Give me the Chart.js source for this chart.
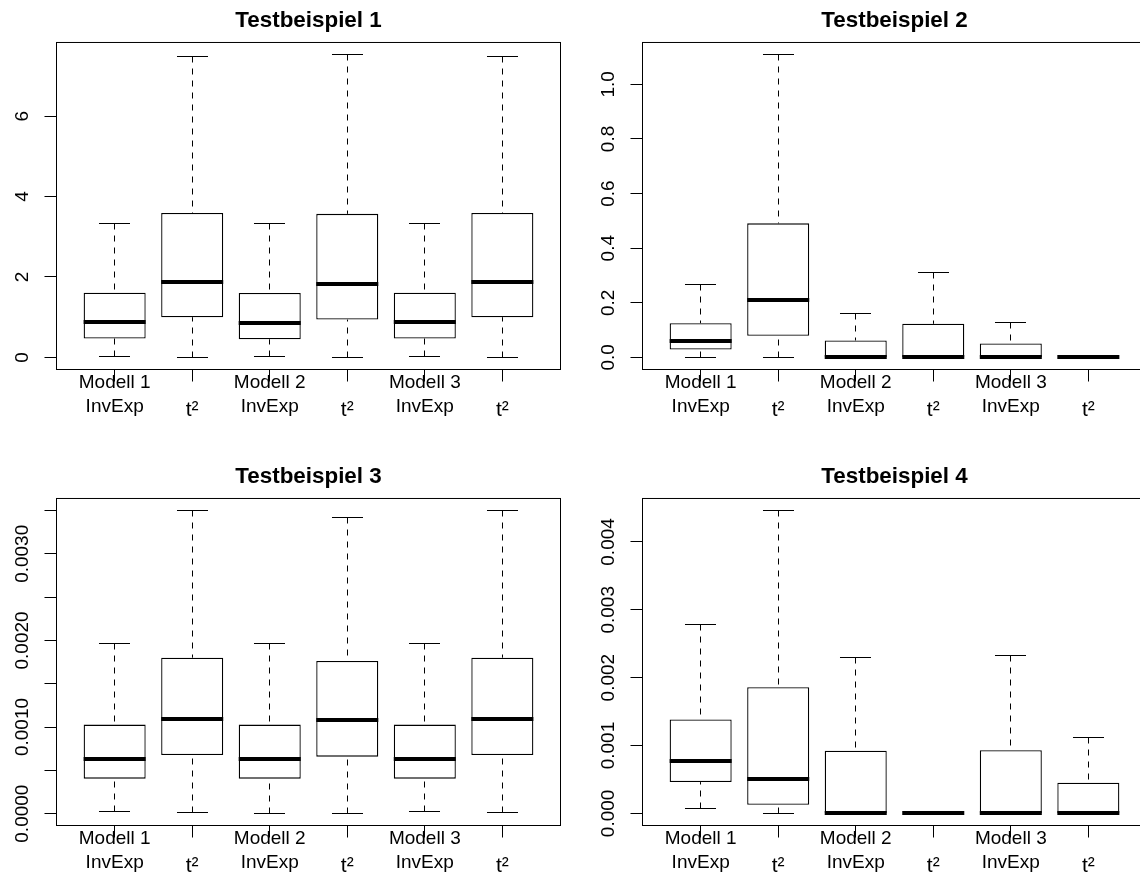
<!DOCTYPE html>
<html>
<head>
<meta charset="utf-8">
<script src="https://cdn.jsdelivr.net/npm/chart.js@4.4.1/dist/chart.umd.min.js"></script>
<style>
  html, body { margin: 0; padding: 0; background: #fff; width: 1140px; height: 873px; overflow: hidden; position: relative; }
  canvas { position: absolute; }
</style>
</head>
<body>
<canvas id="tb1" width="570" height="436" style="left:0px;top:0px"></canvas>
<canvas id="tb2" width="570" height="436" style="left:586px;top:0px"></canvas>
<canvas id="tb3" width="570" height="436" style="left:0px;top:456px"></canvas>
<canvas id="tb4" width="570" height="436" style="left:586px;top:456px"></canvas>
<script>
// Box positions along the x axis and their two-line labels
const positions = [1, 2, 3, 4, 5, 6];
const xTickLabels = [
  ["Modell 1", "InvExp"], ["", "t²"],
  ["Modell 2", "InvExp"], ["", "t²"],
  ["Modell 3", "InvExp"], ["", "t²"]
];
const titles = ["Testbeispiel 1", "Testbeispiel 2", "Testbeispiel 3", "Testbeispiel 4"];

// Testbeispiel 1: five-number summaries per box
const t1Low  = [0.02, 0.00, 0.01, 0.00, 0.02, 0.00];
const t1Q1   = [0.47, 1.00, 0.45, 0.94, 0.47, 1.00];
const t1Med  = [0.87, 1.88, 0.85, 1.83, 0.87, 1.88];
const t1Q3   = [1.61, 3.59, 1.60, 3.57, 1.61, 3.59];
const t1High = [3.34, 7.48, 3.32, 7.53, 3.34, 7.48];
const t1Ticks = [0, 2, 4, 6];
const t1TickLabels = ["0", "2", "4", "6"];

// Testbeispiel 2
const t2Low  = [0.000, 0.000, 0.000, 0.000, 0.000, 0.000];
const t2Q1   = [0.029, 0.079, 0.000, 0.000, 0.000, 0.000];
const t2Med  = [0.060, 0.210, 0.000, 0.000, 0.000, 0.000];
const t2Q3   = [0.125, 0.491, 0.062, 0.123, 0.051, 0.000];
const t2High = [0.268, 1.109, 0.160, 0.310, 0.128, 0.000];
const t2Ticks = [0, 0.2, 0.4, 0.6, 0.8, 1.0];
const t2TickLabels = ["0.0", "0.2", "0.4", "0.6", "0.8", "1.0"];

// Testbeispiel 3
const t3Low  = [0.000030, 0.000018, 0.000003, 0.000003, 0.000030, 0.000018];
const t3Q1   = [0.000404, 0.000677, 0.000404, 0.000658, 0.000404, 0.000677];
const t3Med  = [0.000635, 0.001092, 0.000631, 0.001085, 0.000635, 0.001092];
const t3Q3   = [0.001028, 0.001801, 0.001028, 0.001762, 0.001028, 0.001801];
const t3High = [0.001963, 0.003499, 0.001970, 0.003425, 0.001963, 0.003499];
const t3Ticks = [0, 0.0005, 0.0010, 0.0015, 0.0020, 0.0025, 0.0030, 0.0035];
const t3TickLabels = ["0.0000", "", "0.0010", "", "0.0020", "", "0.0030", ""];

// Testbeispiel 4
const t4Low  = [0.000078, 0.000000, 0.000000, 0.000000, 0.000000, 0.000000];
const t4Q1   = [0.000461, 0.000127, 0.000000, 0.000000, 0.000000, 0.000000];
const t4Med  = [0.000770, 0.000505, 0.000000, 0.000000, 0.000000, 0.000000];
const t4Q3   = [0.001384, 0.001860, 0.000922, 0.000000, 0.000932, 0.000451];
const t4High = [0.002778, 0.004462, 0.002302, 0.000000, 0.002331, 0.001119];
const t4Ticks = [0, 0.001, 0.002, 0.003, 0.004];
const t4TickLabels = ["0.000", "0.001", "0.002", "0.003", "0.004"];

const FONT = "'Liberation Sans', Arial, Helvetica, sans-serif";
Chart.defaults.font.family = FONT;
Chart.defaults.color = '#000';

const measureCtx = document.createElement('canvas').getContext('2d');
function widestLabel(labels, size) {
  measureCtx.font = size + 'px ' + FONT;
  return Math.max(...labels.map(l => measureCtx.measureText(l).width));
}

const crisp = v => Math.round(v - 0.5) + 0.5;

// Whiskers, staples, medians and the frame around the plotting region
function boxplotMarks(stats) {
  return {
    id: 'boxplotMarks',
    beforeDatasetsDraw(chart) {
      const { ctx, scales: { x, y } } = chart;
      const meta = chart.getDatasetMeta(0);
      ctx.save();
      ctx.strokeStyle = '#000';
      ctx.lineWidth = 1;
      positions.forEach((p, i) => {
        const bar = meta.data[i];
        const cx = crisp(x.getPixelForValue(p));
        const half = bar.width / 4;
        const yLow = crisp(y.getPixelForValue(stats.low[i]));
        const yHigh = crisp(y.getPixelForValue(stats.high[i]));
        const yQ1 = y.getPixelForValue(stats.q1[i]);
        const yQ3 = y.getPixelForValue(stats.q3[i]);
        ctx.setLineDash([6, 6]);
        ctx.beginPath();
        ctx.moveTo(cx, yHigh); ctx.lineTo(cx, yQ3);
        ctx.moveTo(cx, yLow); ctx.lineTo(cx, yQ1);
        ctx.stroke();
        ctx.setLineDash([]);
        ctx.beginPath();
        ctx.moveTo(cx - half, yHigh); ctx.lineTo(cx + half, yHigh);
        ctx.moveTo(cx - half, yLow); ctx.lineTo(cx + half, yLow);
        ctx.stroke();
      });
      ctx.restore();
    },
    afterDatasetsDraw(chart) {
      const { ctx, scales: { y } } = chart;
      const meta = chart.getDatasetMeta(0);
      ctx.save();
      ctx.strokeStyle = '#000';
      ctx.lineWidth = 4;
      ctx.lineCap = 'butt';
      positions.forEach((p, i) => {
        const bar = meta.data[i];
        const ym = Math.round(y.getPixelForValue(stats.med[i]));
        ctx.beginPath();
        ctx.moveTo(bar.x - bar.width / 2, ym);
        ctx.lineTo(bar.x + bar.width / 2, ym);
        ctx.stroke();
      });
      ctx.restore();
    },
    afterDraw(chart) {
      const { ctx, chartArea: a } = chart;
      ctx.save();
      ctx.strokeStyle = '#000';
      ctx.lineWidth = 1;
      ctx.strokeRect(a.left, a.top, a.right - a.left, a.bottom - a.top);
      ctx.restore();
    }
  };
}

function drawPanel(id, title, stats, ticks, tickLabels) {
  const all = [...stats.low, ...stats.high];
  const lo = Math.min(...all), hi = Math.max(...all);
  const ext = (hi - lo) * 0.04;
  const labelPad = 22 - widestLabel(tickLabels, 19) / 2;

  new Chart(document.getElementById(id), {
    type: 'bar',
    data: {
      datasets: [{
        data: positions.map((p, i) => ({ x: p, y: [stats.q1[i], stats.q3[i]] })),
        backgroundColor: '#ffffff',
        borderColor: '#000000',
        borderWidth: 1.3,
        borderSkipped: false,
        inflateAmount: 0,
        barPercentage: 1.0,
        categoryPercentage: 0.8
      }]
    },
    options: {
      responsive: false,
      animation: false,
      events: [],
      layout: { padding: { left: 0, right: 9.5, top: 0, bottom: 0 } },
      plugins: {
        legend: { display: false },
        tooltip: { enabled: false },
        title: {
          display: true,
          text: title,
          fullSize: false,
          color: '#000',
          font: { family: FONT, size: 22.4, weight: 'bold', lineHeight: 1.2 },
          padding: { top: 7, bottom: 8.6 }
        }
      },
      scales: {
        x: {
          type: 'linear',
          min: 0.25,
          max: 6.75,
          offset: false,
          afterBuildTicks: s => { s.ticks = positions.map(v => ({ value: v })); },
          afterFit: s => { s.height = 66.5; },
          grid: { offset: false, drawOnChartArea: false, drawTicks: true, tickLength: 12, color: '#000', lineWidth: 1 },
          border: { display: false },
          ticks: {
            autoSkip: false,
            minRotation: 0,
            maxRotation: 0,
            padding: -10.7,
            color: '#000',
            font: c => ({ family: FONT, size: xTickLabels[c.index] && xTickLabels[c.index][0] === '' ? 21 : 19, lineHeight: 1.25 }),
            callback: (v, i) => xTickLabels[i]
          }
        },
        y: {
          type: 'linear',
          min: lo - ext,
          max: hi + ext,
          afterBuildTicks: s => { s.ticks = ticks.map(v => ({ value: v })); },
          afterFit: s => { s.width = 56.5; },
          grid: { drawOnChartArea: false, drawTicks: true, tickLength: 12, color: '#000', lineWidth: 1 },
          border: { display: false },
          ticks: {
            autoSkip: false,
            minRotation: 90,
            maxRotation: 90,
            crossAlign: 'center',
            padding: labelPad,
            color: '#000',
            font: { family: FONT, size: 19 },
            callback: (v, i) => tickLabels[i]
          }
        }
      }
    },
    plugins: [boxplotMarks(stats)]
  });
}

drawPanel('tb1', titles[0], { low: t1Low, q1: t1Q1, med: t1Med, q3: t1Q3, high: t1High }, t1Ticks, t1TickLabels);
drawPanel('tb2', titles[1], { low: t2Low, q1: t2Q1, med: t2Med, q3: t2Q3, high: t2High }, t2Ticks, t2TickLabels);
drawPanel('tb3', titles[2], { low: t3Low, q1: t3Q1, med: t3Med, q3: t3Q3, high: t3High }, t3Ticks, t3TickLabels);
drawPanel('tb4', titles[3], { low: t4Low, q1: t4Q1, med: t4Med, q3: t4Q3, high: t4High }, t4Ticks, t4TickLabels);
</script>
</body>
</html>
